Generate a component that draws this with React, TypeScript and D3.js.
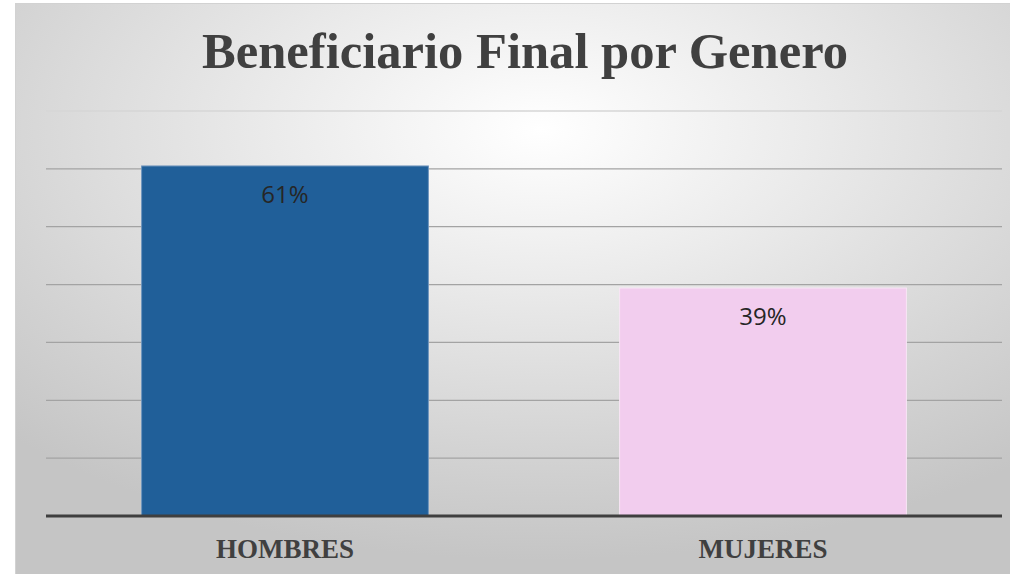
import React from "react";
import * as d3 from "d3";

const categories = ["HOMBRES", "MUJERES"];
const shares = [0.605, 0.394];
const shareLabels = ["61%", "39%"];
const barColors = ["#205f99", "#f2cdee"];
const barEdges = ["#6f95bd", "#f8e6f6"];
const gridTicks = [0.1, 0.2, 0.3, 0.4, 0.5, 0.6, 0.7];

const width = 1010;
const height = 574;
const margin = { top: 111, right: 8, bottom: 58, left: 46 };

const App = () => {
  const xScale = d3
    .scaleBand<string>()
    .domain(categories)
    .range([margin.left, width - margin.right])
    .paddingInner(0.4)
    .paddingOuter(0.2);

  const yScale = d3
    .scaleLinear()
    .domain([0, 0.7])
    .range([height - margin.bottom, margin.top]);

  const baseY = yScale(0);

  return (
    <svg
      width={width}
      height={height}
      style={{ position: "absolute", left: 0, top: 0 }}
    >
      <defs>
        <radialGradient id="bg" cx="52%" cy="22%" r="75%" fx="52%" fy="22%">
          <stop offset="0%" stopColor="#ffffff" />
          <stop offset="35%" stopColor="#ebebeb" />
          <stop offset="75%" stopColor="#d3d3d3" />
          <stop offset="100%" stopColor="#c5c5c5" />
        </radialGradient>
      </defs>
      <rect x={0} y={0} width={width} height={height} fill="#ffffff" />
      <rect
        x={15.5}
        y={3.5}
        width={width}
        height={height}
        fill="url(#bg)"
        stroke="#d2d2d2"
        strokeWidth={1}
      />

      <text
        x={525}
        y={68}
        textAnchor="middle"
        fontFamily="'Liberation Serif', 'Times New Roman', serif"
        fontWeight="bold"
        fontSize={50}
        fill="#404040"
        textLength={646}
        lengthAdjust="spacingAndGlyphs"
      >
        Beneficiario Final por Genero
      </text>

      {/* grid */}
      {gridTicks.map(t => (
        <line
          key={t}
          x1={margin.left}
          x2={width - margin.right}
          y1={yScale(t)}
          y2={yScale(t)}
          stroke={t === 0.7 ? "#d6d6d6" : "#a3a3a3"}
          strokeWidth={1.3}
        />
      ))}

      {/* bars */}
      {categories.map((c, i) => (
        <g key={c}>
          <rect
            x={xScale(c)}
            y={yScale(shares[i])}
            width={xScale.bandwidth()}
            height={baseY - yScale(shares[i])}
            fill={barColors[i]}
            stroke={barEdges[i]}
            strokeWidth={1}
          />
          <text
            x={(xScale(c) as number) + xScale.bandwidth() / 2}
            y={yScale(shares[i]) + 37}
            textAnchor="middle"
            fontFamily="'Open Sans', 'Noto Sans', sans-serif"
            fontSize={24}
            fill="#262626"
          >
            {shareLabels[i]}
          </text>
          <text
            x={(xScale(c) as number) + xScale.bandwidth() / 2}
            y={baseY + 42}
            textAnchor="middle"
            fontFamily="'Liberation Serif', 'Times New Roman', serif"
            fontWeight="bold"
            fontSize={27}
            fill="#404040"
          >
            {c}
          </text>
        </g>
      ))}

      {/* axis */}
      <line
        x1={margin.left}
        x2={width - margin.right}
        y1={baseY}
        y2={baseY}
        stroke="#3f3f3f"
        strokeWidth={3}
      />
    </svg>
  );
};

export default App;
